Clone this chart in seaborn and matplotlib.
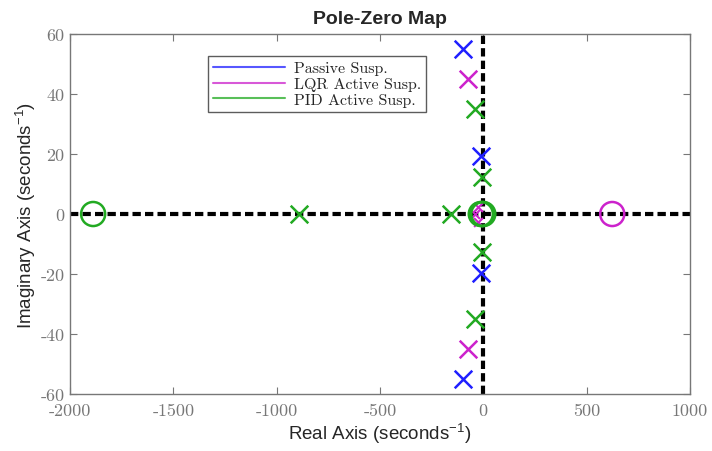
import numpy as np
import pandas as pd
import matplotlib
matplotlib.use("Agg")
import matplotlib.pyplot as plt
import seaborn as sns
from matplotlib.lines import Line2D
from matplotlib.ticker import FuncFormatter

sistemas = ["Passive Susp.", "LQR Active Susp.", "PID Active Susp."]
colores = ["#1f1fff", "#cc22cc", "#22aa22"]

polos_re = {
    "Passive Susp.": [-100, -100, -10, -10],
    "LQR Active Susp.": [-75, -75],
    "PID Active Susp.": [-42, -42, -5, -5, -891, -158],
}
polos_im = {
    "Passive Susp.": [55, -55, 19.5, -19.5],
    "LQR Active Susp.": [45, -45],
    "PID Active Susp.": [35, -35, 12.5, -12.5, 0, 0],
}
# polos pequenos del LQR cerca del origen
polos_lqr_re = [-40, -25, -25]
polos_lqr_im = [0, 2.5, -2.5]

ceros_re = {
    "Passive Susp.": [],
    "LQR Active Susp.": [624],
    "PID Active Susp.": [-1888, -12, -5, 0],
}
ceros_im = {
    "Passive Susp.": [],
    "LQR Active Susp.": [0],
    "PID Active Susp.": [0, 0, 0, 0],
}

sns.set_style("white")
plt.rcParams["font.family"] = ["Liberation Sans", "DejaVu Sans"]

fig = plt.figure(figsize=(7.12, 4.52), dpi=100)
ax = fig.add_axes([0.0983, 0.126, 0.8707, 0.7966])

# ejes punteados
ax.axhline(0, color="black", lw=3, ls=(0, (2, 1)), zorder=1)
ax.axvline(0, color="black", lw=3, ls=(0, (2, 1)), zorder=1)

for nombre, c in zip(sistemas, colores):
    dp = pd.DataFrame({"re": polos_re[nombre], "im": polos_im[nombre]})
    sns.scatterplot(data=dp, x="re", y="im", marker="x", s=160, color=c,
                    linewidth=1.8, ax=ax, zorder=3, legend=False)
    if len(ceros_re[nombre]) > 0:
        dz = pd.DataFrame({"re": ceros_re[nombre], "im": ceros_im[nombre]})
        sns.scatterplot(data=dz, x="re", y="im", marker="o", s=300,
                        facecolors="none", edgecolor=c, linewidth=1.8,
                        ax=ax, zorder=3, legend=False)

dl = pd.DataFrame({"re": polos_lqr_re, "im": polos_lqr_im})
sns.scatterplot(data=dl, x="re", y="im", marker="x", s=40, color=colores[1],
                linewidth=1.5, ax=ax, zorder=2, legend=False)

ax.set_xlim(-2000, 1000)
ax.set_ylim(-60, 60)
ax.set_xticks(np.arange(-2000, 1001, 500))
ax.set_yticks(np.arange(-60, 61, 20))
fmt = FuncFormatter(lambda v, p: f"{int(v)}")
ax.xaxis.set_major_formatter(fmt)
ax.yaxis.set_major_formatter(fmt)
ax.tick_params(direction="in", length=5, color="#777777", labelcolor="#777777",
               labelsize=13, top=True, right=True, left=True, bottom=True)
ax.tick_params(axis="y", pad=4)
ax.tick_params(axis="x", pad=6)
for lab in ax.get_xticklabels() + ax.get_yticklabels():
    lab.set_fontfamily("cmr10")
for s in ax.spines.values():
    s.set_color("#777777")
    s.set_linewidth(1)

ax.set_xlabel(r"Real Axis (seconds$^{\mathregular{-1}}$)", fontsize=13.5, labelpad=2)
ax.set_ylabel(r"Imaginary Axis (seconds$^{\mathregular{-1}}$)", fontsize=13.5, labelpad=2)
ax.set_title("Pole-Zero Map", fontsize=14, fontweight="bold", pad=8)

manejadores = [Line2D([0], [0], color=c, lw=1.5, alpha=0.75) for c in colores]
leg = ax.legend(manejadores, sistemas, loc="upper left",
                bbox_to_anchor=(0.21, 0.96), prop={"family": "cmr10", "size": 11.5},
                frameon=True, fancybox=False, handlelength=4.5,
                borderpad=0.3, labelspacing=0.1, handletextpad=0.6)
leg.get_frame().set_edgecolor("#333333")
leg.get_frame().set_linewidth(1)

fig.savefig("out.png", dpi=100)
